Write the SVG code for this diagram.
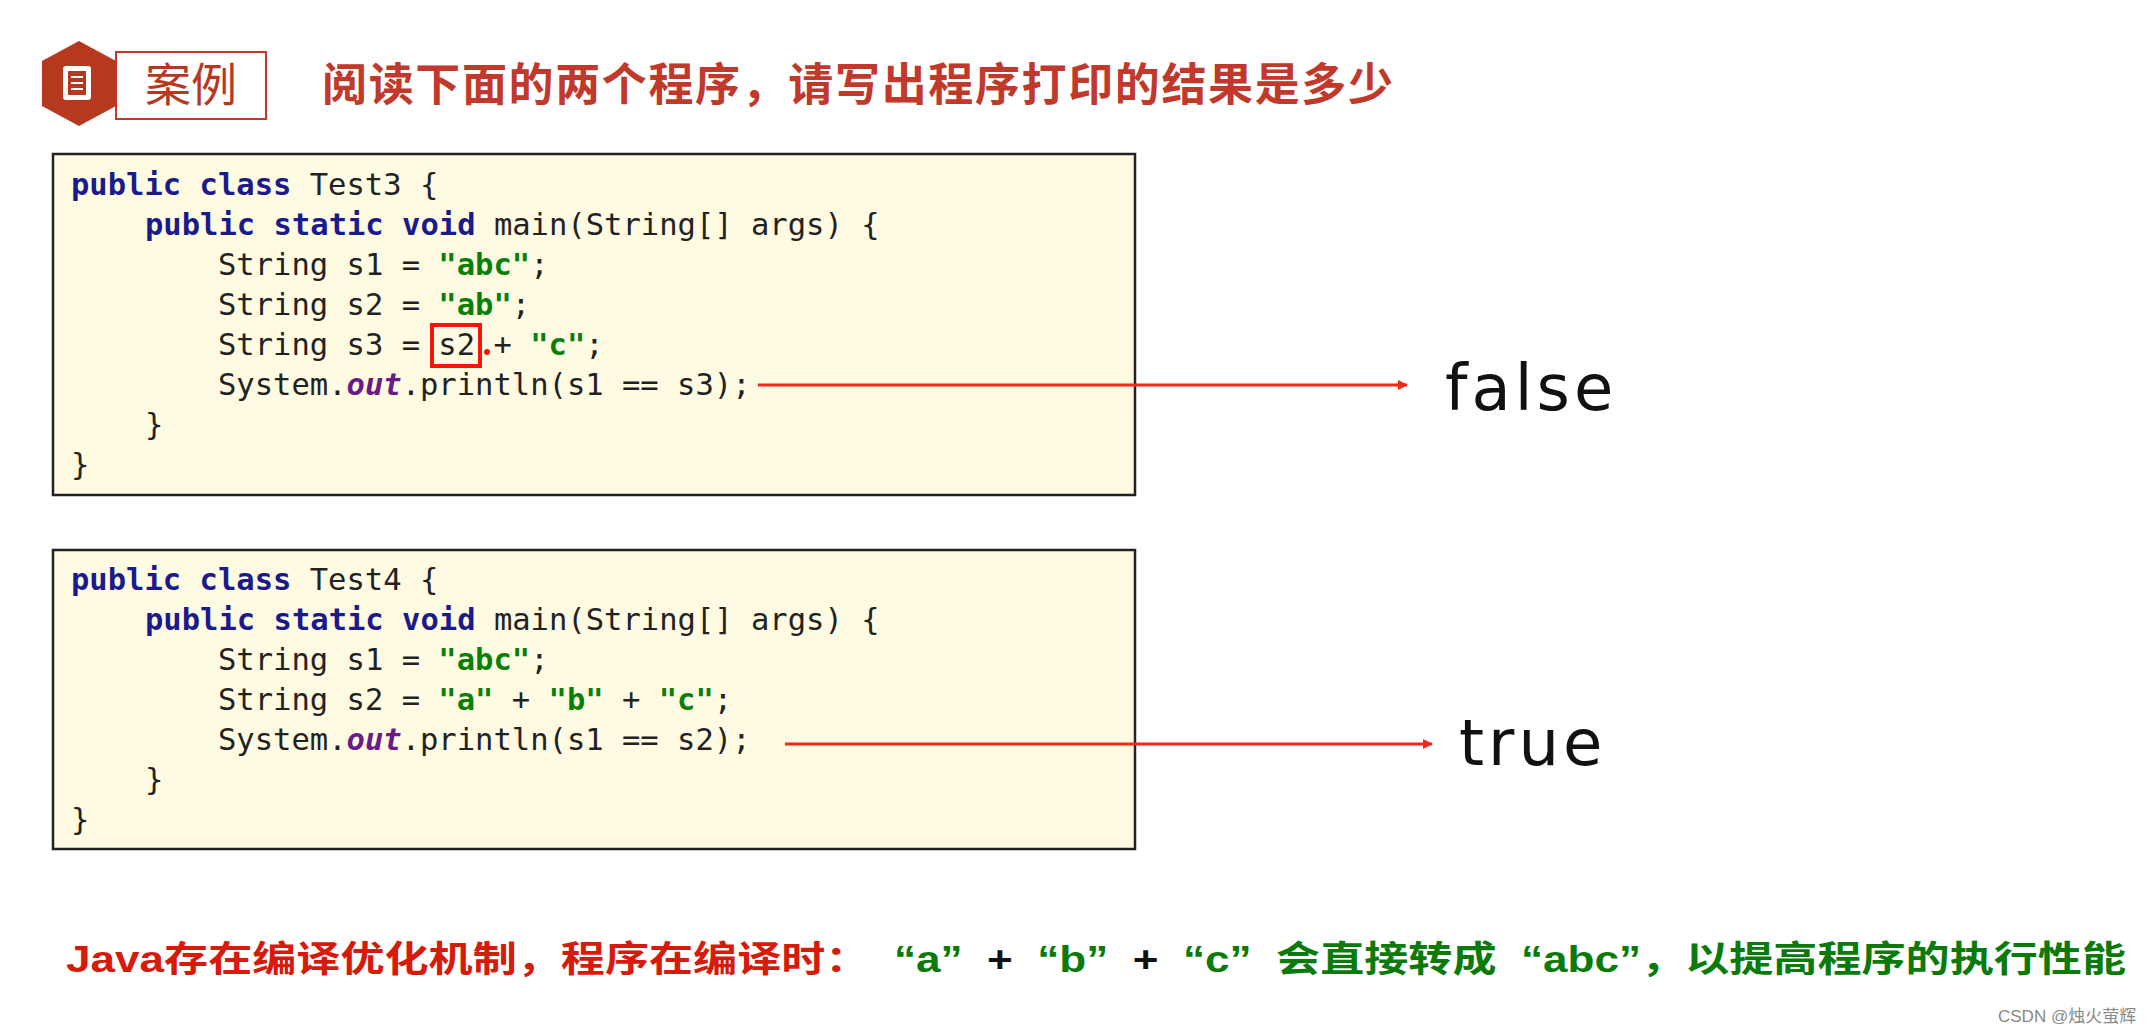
<svg xmlns="http://www.w3.org/2000/svg" width="2148" height="1034" viewBox="0 0 2148 1034">
<style>
.code{font-family:"DejaVu Sans Mono","Liberation Mono",monospace;font-size:30.5px;fill:#222}
.kw{fill:#1a1a8c;font-weight:bold}
.st{fill:#078007;font-weight:bold}
.out{fill:#6a1b8a;font-style:italic;font-weight:bold}
.box{fill:#fefbe2;stroke:#222;stroke-width:2.5}
.res{font-family:"Comic Sans MS","DejaVu Sans",sans-serif;font-size:64px;fill:#111;letter-spacing:4px}
.cn{font-family:"Liberation Sans","Noto Sans CJK SC",sans-serif;font-weight:bold}
</style>
<defs>
<marker id="ah" markerWidth="10" markerHeight="10" refX="9" refY="5" orient="auto" markerUnits="userSpaceOnUse">
<path d="M0,0 L10,5 L0,10 z" fill="#f2291a"/>
</marker>
</defs>
<rect width="2148" height="1034" fill="#fff"/>
<g id="header">
<rect x="116" y="52" width="150" height="67" fill="#fff" stroke="#c0392b" stroke-width="2"/>
<polygon points="79,41 116,61 116,106 79,126 42,106 42,61" fill="#b5381f"/>
<rect x="63" y="66" width="28" height="34" rx="3" fill="#fff"/>
<rect x="68" y="71" width="18" height="24" fill="#b5381f"/>
<line x1="71" y1="77" x2="83" y2="77" stroke="#fff" stroke-width="2"/>
<line x1="71" y1="83" x2="83" y2="83" stroke="#fff" stroke-width="2"/>
<line x1="71" y1="89" x2="83" y2="89" stroke="#fff" stroke-width="2"/>
<text x="145" y="101" font-family="Liberation Sans,'Noto Sans CJK SC',sans-serif" font-size="46" fill="#b5381f">案例</text>
<text x="322" y="101" class="cn" font-size="45" fill="#c0392b" textLength="1071">阅读下面的两个程序，请写出程序打印的结果是多少</text>
</g>
<g id="test3">
<rect class="box" x="53" y="154" width="1082" height="341"/>
<text class="code" x="71" y="195"><tspan class="kw">public class</tspan> Test3 {</text>
<text class="code" x="145" y="235"><tspan class="kw">public static void</tspan> main(String[] args) {</text>
<text class="code" x="218" y="275">String s1 = <tspan class="st">"abc"</tspan>;</text>
<text class="code" x="218" y="315">String s2 = <tspan class="st">"ab"</tspan>;</text>
<text class="code" x="218" y="355">String s3 = s2 + <tspan class="st">"c"</tspan>;</text>
<text class="code" x="218" y="395">System.<tspan class="out">out</tspan>.println(s1 == s3);</text>
<text class="code" x="145" y="435">}</text>
<text class="code" x="71" y="475">}</text>
<rect x="432" y="325" width="48" height="41" fill="none" stroke="#f0180c" stroke-width="4"/>
<circle cx="487" cy="352" r="3" fill="#f0180c"/>
</g>
<g id="test4">
<rect class="box" x="53" y="550" width="1082" height="299"/>
<text class="code" x="71" y="590"><tspan class="kw">public class</tspan> Test4 {</text>
<text class="code" x="145" y="630"><tspan class="kw">public static void</tspan> main(String[] args) {</text>
<text class="code" x="218" y="670">String s1 = <tspan class="st">"abc"</tspan>;</text>
<text class="code" x="218" y="710">String s2 = <tspan class="st">"a"</tspan> + <tspan class="st">"b"</tspan> + <tspan class="st">"c"</tspan>;</text>
<text class="code" x="218" y="750">System.<tspan class="out">out</tspan>.println(s1 == s2);</text>
<text class="code" x="145" y="790">}</text>
<text class="code" x="71" y="830">}</text>
</g>
<g id="connectors">
<line x1="758" y1="385" x2="1407" y2="385" stroke="#f2291a" stroke-width="3" marker-end="url(#ah)"/>
<line x1="785" y1="744" x2="1432" y2="744" stroke="#f2291a" stroke-width="3" marker-end="url(#ah)"/>
</g>
<g id="results">
<text class="res" x="1445" y="410">false</text>
<text class="res" x="1459" y="765">true</text>
</g>
<g id="note">
<text class="cn" x="66" y="972" font-size="36" textLength="2060" lengthAdjust="spacingAndGlyphs" style="white-space:pre" xml:space="preserve"><tspan fill="#d61a0c">Java存在编译优化机制，程序在编译时：</tspan><tspan fill="#0a7a0a">  “a”</tspan><tspan fill="#111">  +  </tspan><tspan fill="#0a7a0a">“b”</tspan><tspan fill="#111">  +  </tspan><tspan fill="#0a7a0a">“c”  会直接转成  “abc”，以提高程序的执行性能</tspan></text>
</g>
<text x="1998" y="1022" font-family="Liberation Sans,'Noto Sans CJK SC',sans-serif" font-size="17" fill="#888">CSDN @烛火萤辉</text>
</svg>
